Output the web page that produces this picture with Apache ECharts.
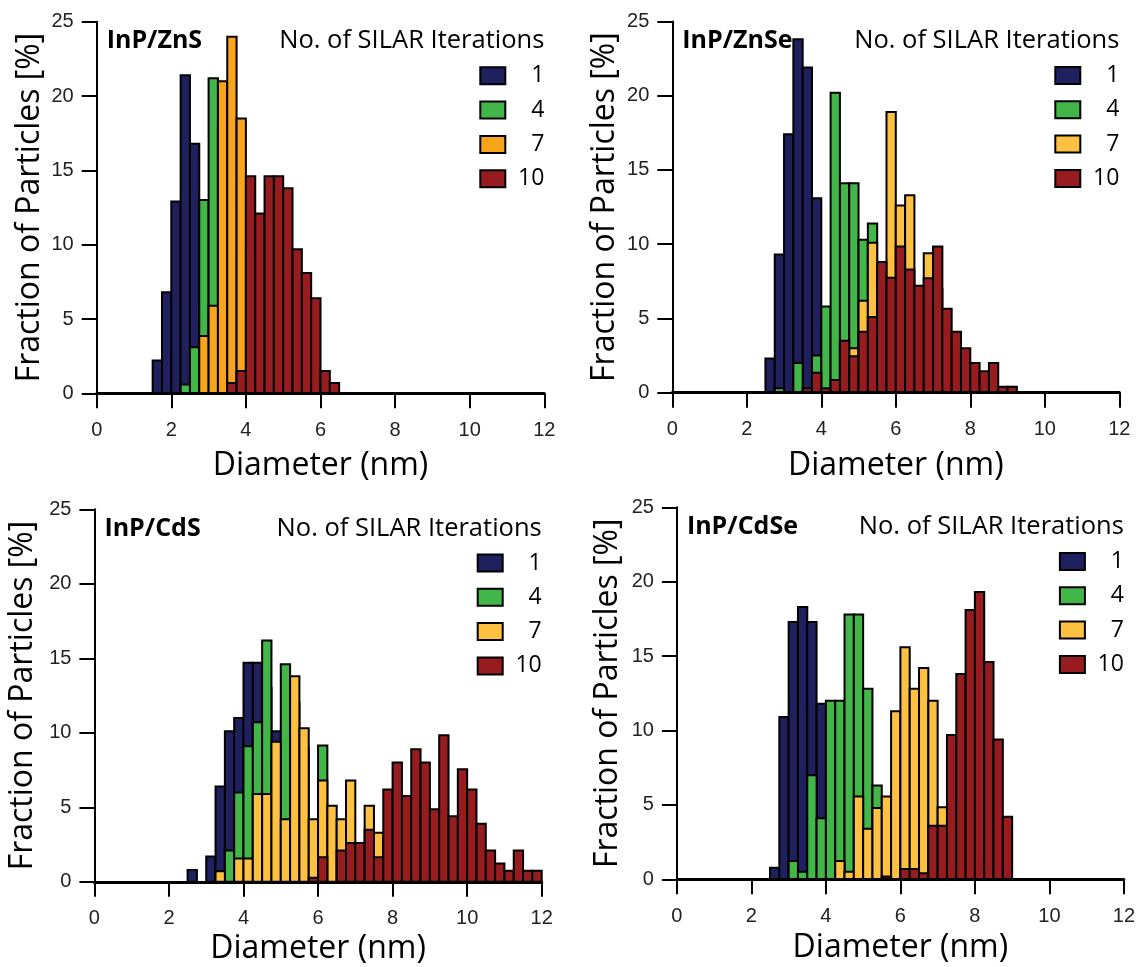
<!DOCTYPE html>
<html><head><meta charset="utf-8">
<script src="https://cdn.jsdelivr.net/npm/echarts@6/dist/echarts.min.js"></script>
<style>html,body{margin:0;padding:0;background:#fff}#c{width:1139px;height:967px}</style>
</head><body><div id="c"></div>
<script>
// ---------------- DATA ----------------
const BIN_WIDTH = 0.25;                       // nm, histogram bin width
const seriesNames = ['1', '4', '7', '10'];    // No. of SILAR iterations
const panelTitles = ['InP/ZnS', 'InP/ZnSe', 'InP/CdS', 'InP/CdSe'];
const legendTitle = 'No. of SILAR Iterations';
const xTickValues = [0, 2, 4, 6, 8, 10, 12];
const yTickValues = [0, 5, 10, 15, 20, 25];

// [bin left edge (nm), fraction (%)]
const znsIter1  = [[1.5,2.2],[1.75,6.8],[2.0,12.9],[2.25,21.4],[2.5,16.8],[2.75,10.5],[3.0,7.5],[3.25,4.5],[3.5,2.0],[3.75,0.5]];
const znsIter4  = [[2.25,0.6],[2.5,3.1],[2.75,13.0],[3.0,21.2],[3.25,18.0],[3.5,12.0],[3.75,6.0],[4.0,3.0],[4.25,1.0]];
const znsIter7  = [[2.75,3.85],[3.0,5.9],[3.25,21.0],[3.5,24.0],[3.75,18.5],[4.0,10.0],[4.25,6.0],[4.5,3.0],[4.75,1.5]];
const znsIter10 = [[3.5,0.7],[3.75,1.5],[4.0,14.6],[4.25,12.1],[4.5,14.6],[4.75,14.6],[5.0,13.8],[5.25,9.7],[5.5,8.1],[5.75,6.4],[6.0,1.5],[6.25,0.7]];

const znseIter1  = [[2.5,2.3],[2.75,9.3],[3.0,17.4],[3.25,23.8],[3.5,21.9],[3.75,13.1],[4.0,4.5],[4.25,2.0]];
const znseIter4  = [[2.75,0.3],[3.25,2.0],[3.75,2.5],[4.0,5.8],[4.25,20.2],[4.5,14.1],[4.75,14.1],[5.0,10.3],[5.25,11.4],[5.5,7.0],[5.75,4.0],[6.0,2.0]];
const znseIter7  = [[4.75,3.0],[5.0,6.2],[5.25,10.1],[5.5,8.0],[5.75,18.9],[6.0,12.6],[6.25,13.3],[6.5,6.5],[6.75,9.4],[7.0,7.0],[7.25,4.0],[7.5,2.0]];
const znseIter10 = [[3.5,0.3],[3.75,1.35],[4.0,0.3],[4.25,0.85],[4.5,3.5],[4.75,2.45],[5.0,4.1],[5.25,5.1],[5.5,8.8],[5.75,7.75],[6.0,9.85],[6.25,8.3],[6.5,7.2],[6.75,7.7],[7.0,9.85],[7.25,5.65],[7.5,4.1],[7.75,3.0],[8.0,2.0],[8.25,1.45],[8.5,2.0],[8.75,0.4],[9.0,0.4]];

const cdsIter1  = [[2.5,0.8],[3.0,1.7],[3.25,6.4],[3.5,10.1],[3.75,11.0],[4.0,14.7],[4.25,14.7],[4.5,13.0],[4.75,10.1],[5.0,5.0],[5.25,2.0]];
const cdsIter4  = [[3.5,2.1],[3.75,6.0],[4.0,9.1],[4.25,10.7],[4.5,16.2],[4.75,8.0],[5.0,14.6],[5.25,12.0],[5.5,9.0],[5.75,4.0],[6.0,9.15],[6.25,3.0]];
const cdsIter7  = [[3.25,0.7],[3.75,1.57],[4.0,1.57],[4.25,5.9],[4.5,5.9],[4.75,9.4],[5.0,4.2],[5.25,13.8],[5.5,10.3],[5.75,4.2],[6.0,6.8],[6.25,5.1],[6.5,4.2],[6.75,6.8],[7.0,2.0],[7.25,5.1],[7.5,3.3],[7.75,3.0],[8.0,2.0],[8.25,1.5],[8.5,1.0]];
const cdsIter10 = [[5.75,0.27],[6.0,1.64],[6.5,2.1],[6.75,2.6],[7.0,2.6],[7.25,3.5],[7.5,1.64],[7.75,6.2],[8.0,8.0],[8.25,5.76],[8.5,8.9],[8.75,8.0],[9.0,4.87],[9.25,9.84],[9.5,4.4],[9.75,7.56],[10.0,6.2],[10.25,3.9],[10.5,2.1],[10.75,1.23],[11.0,0.74],[11.25,2.1],[11.5,0.74],[11.75,0.74]];

const cdseIter1  = [[2.5,0.78],[2.75,10.9],[3.0,17.3],[3.25,18.3],[3.5,17.3],[3.75,11.8],[4.0,6.0],[4.25,2.0]];
const cdseIter4  = [[3.0,1.23],[3.25,0.5],[3.5,7.0],[3.75,4.1],[4.0,12.0],[4.25,12.0],[4.5,17.8],[4.75,17.8],[5.0,12.8],[5.25,6.3],[5.5,3.0],[5.75,1.0]];
const cdseIter7  = [[4.25,1.23],[4.5,0.5],[4.75,5.56],[5.0,3.4],[5.25,4.8],[5.5,5.56],[5.75,11.3],[6.0,15.6],[6.25,12.8],[6.5,14.2],[6.75,12.0],[7.0,4.84],[7.25,2.0],[7.5,0.8]];
const cdseIter10 = [[5.5,0.18],[6.0,0.7],[6.25,0.7],[6.5,0.4],[6.75,3.6],[7.0,3.6],[7.25,9.7],[7.5,13.8],[7.75,18.1],[8.0,19.3],[8.25,14.6],[8.5,9.4],[8.75,4.2]];

const panelData = [
  [znsIter1, znsIter4, znsIter7, znsIter10],
  [znseIter1, znseIter4, znseIter7, znseIter10],
  [cdsIter1, cdsIter4, cdsIter7, cdsIter10],
  [cdseIter1, cdseIter4, cdseIter7, cdseIter10]
];

// ---------------- STYLE / LAYOUT ----------------
const COLORS_ZNS   = ['#21205f', '#43b649', '#f8a51c', '#971c20'];
const COLORS_OTHER = ['#21205f', '#43b649', '#fdc040', '#971c20'];
const panelColors = [COLORS_ZNS, COLORS_OTHER, COLORS_OTHER, COLORS_OTHER];

const W = 1139;
const grids = [
  {left: 96.7,  top: 21.8,  width: 447.6, height: 371.5},
  {left: 672.3, top: 21.5,  width: 447,   height: 371.2},
  {left: 94.4,  top: 509.3, width: 447.3, height: 372.5},
  {left: 676.9, top: 507.3, width: 447,   height: 372}
];
const yNameGaps = [51, 51, 56, 53];
const xNameGaps = [57, 57, 51, 53];
const titleTops = [28, 28, 516, 514];
const legendTops = [64.3, 64, 551.5, 550];

const SANS = '"Open Sans", "Noto Sans", sans-serif';
const TICKFONT = '"Liberation Sans", Arial, sans-serif';

const option = {
  animation: false,
  backgroundColor: '#fff',
  grid: grids.map(g => Object.assign({outerBoundsMode: 'none', containLabel: false}, g)),
  title: [],
  legend: [],
  xAxis: [],
  yAxis: [],
  series: []
};

grids.forEach((g, p) => {
  const right = W - (g.left + g.width);
  option.title.push({
    text: panelTitles[p], left: g.left + 10, top: titleTops[p], padding: 0,
    textStyle: {fontFamily: SANS, fontWeight: 'bold', fontSize: 25, color: '#000'}
  });
  option.title.push({
    text: legendTitle, right: right, top: titleTops[p], padding: 0,
    textStyle: {fontFamily: SANS, fontWeight: 'normal', fontSize: 25.5, color: '#000'}
  });
  option.legend.push({
    orient: 'vertical', right: right, top: legendTops[p], align: 'left', padding: 0,
    itemWidth: 25, itemHeight: 17, itemGap: 11.3, itemTextGap: 5, icon: 'rect',
    data: seriesNames.map((n, i) => ({
      name: n,
      itemStyle: {color: panelColors[p][i], borderColor: '#000', borderWidth: 2}
    })),
    formatter: n => '{a|' + n + '}',
    textStyle: {rich: {a: {width: 34, align: 'right', fontSize: 23, fontFamily: SANS, color: '#000', lineHeight: 24}}}
  });
  option.xAxis.push({
    type: 'value', gridIndex: p, z: 5,
    min: xTickValues[0], max: xTickValues[xTickValues.length - 1],
    interval: xTickValues[1] - xTickValues[0],
    name: 'Diameter (nm)', nameLocation: 'middle', nameGap: xNameGaps[p],
    nameTextStyle: {fontFamily: SANS, fontSize: 32, color: '#000'},
    axisLine: {show: true, onZero: false, lineStyle: {color: '#000', width: 3}},
    axisTick: {show: true, length: 15, lineStyle: {color: '#000', width: 2}},
    axisLabel: {fontFamily: TICKFONT, fontSize: 20, color: '#222', margin: 27},
    splitLine: {show: false}
  });
  option.yAxis.push({
    type: 'value', gridIndex: p, z: 5,
    min: yTickValues[0], max: yTickValues[yTickValues.length - 1],
    interval: yTickValues[1] - yTickValues[0],
    name: 'Fraction of Particles [%]', nameLocation: 'middle', nameGap: yNameGaps[p], nameRotate: 90,
    nameTextStyle: {fontFamily: SANS, fontSize: 32, color: '#000'},
    axisLine: {show: true, lineStyle: {color: '#000', width: 2}},
    axisTick: {show: true, length: 15, lineStyle: {color: '#000', width: 2}},
    axisLabel: {fontFamily: TICKFONT, fontSize: 20, color: '#222', margin: 23},
    splitLine: {show: false}
  });
  panelData[p].forEach((data, i) => {
    const color = panelColors[p][i];
    option.series.push({
      type: 'custom', name: seriesNames[i],
      xAxisIndex: p, yAxisIndex: p,
      itemStyle: {color: color, borderColor: '#000', borderWidth: 2},
      encode: {x: 0, y: 1},
      data: data,
      z: 2 + i,
      renderItem: (params, api) => {
        const x0 = api.value(0), v = api.value(1);
        const a = api.coord([x0, v]);
        const b = api.coord([x0 + BIN_WIDTH, 0]);
        return {
          type: 'rect',
          shape: {x: a[0], y: a[1], width: b[0] - a[0], height: b[1] - a[1]},
          style: {fill: color, stroke: '#000', lineWidth: 2}
        };
      }
    });
  });
});

const chart = echarts.init(document.getElementById('c'), null, {renderer: 'canvas'});
chart.setOption(option);
</script>
</body></html>
